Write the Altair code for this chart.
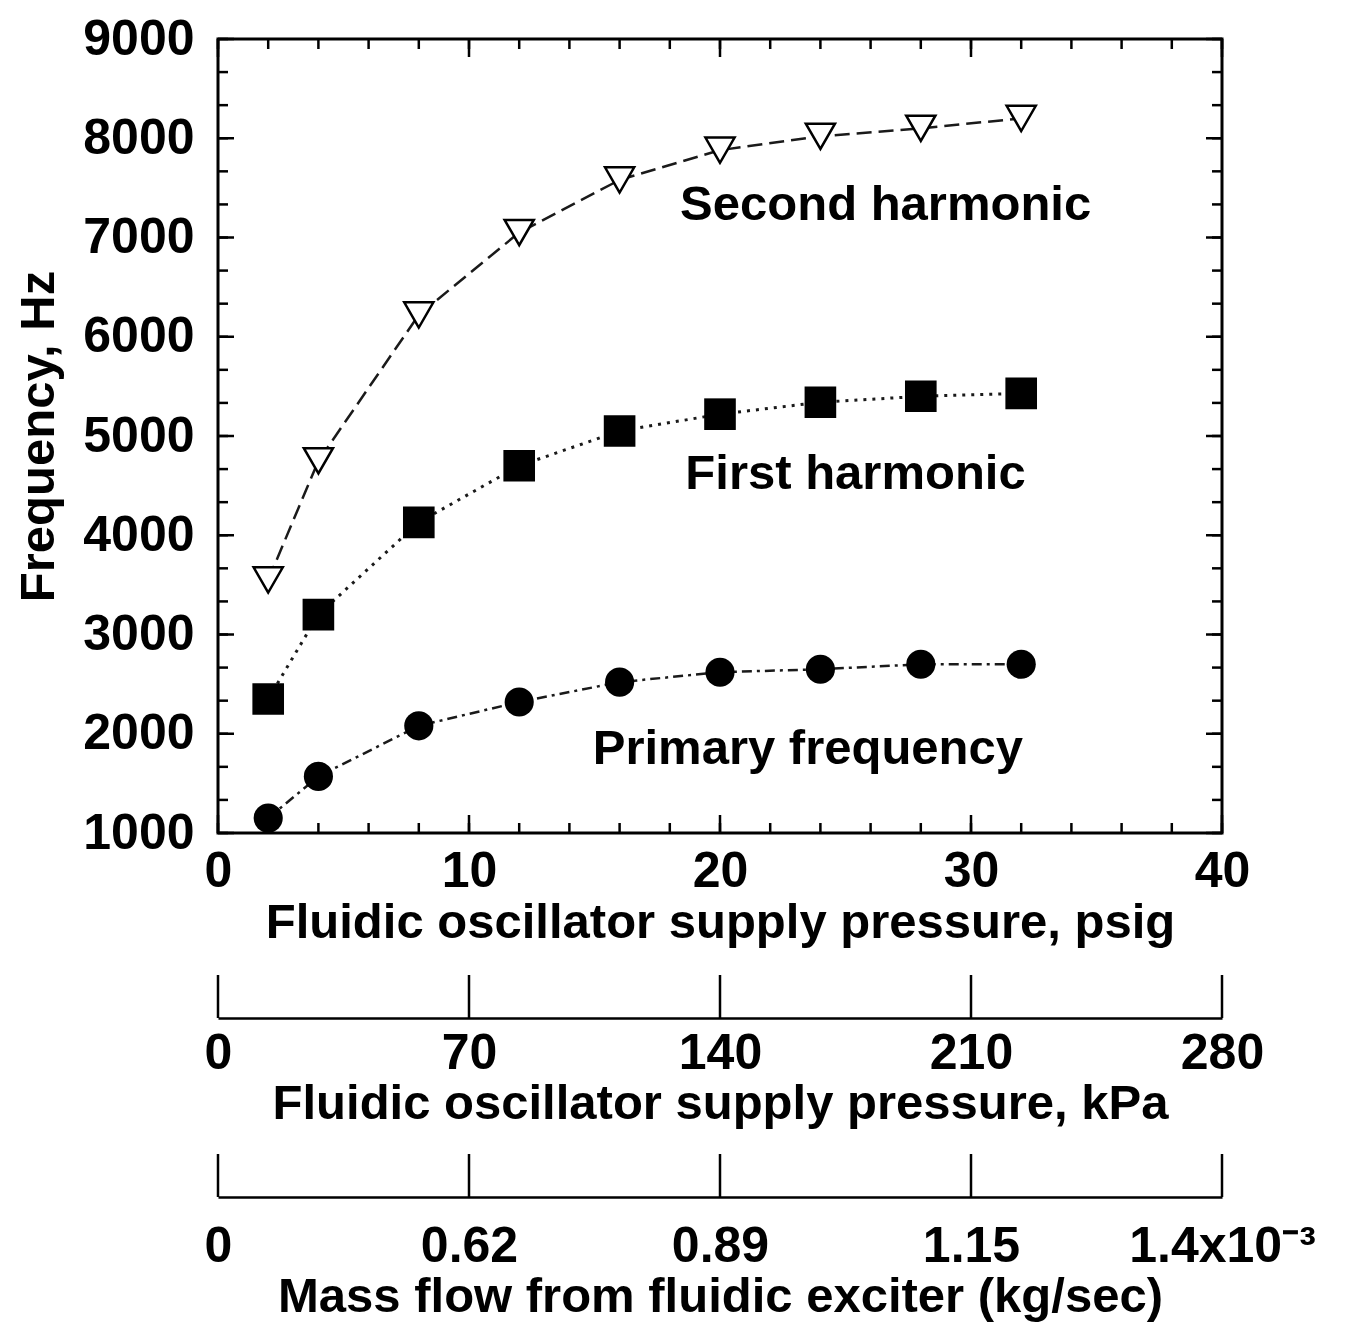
import altair as alt
import pandas as pd

# ---- data ----
psig = [2, 4, 8, 12, 16, 20, 24, 28, 32]
second_harmonic = [3550, 4750, 6220, 7050, 7580, 7880, 8020, 8100, 8200]
first_harmonic = [2350, 3200, 4130, 4700, 5050, 5220, 5340, 5400, 5430]
primary_freq = [1150, 1570, 2080, 2320, 2520, 2620, 2650, 2700, 2700]

annot_text = ["Second harmonic", "First harmonic", "Primary frequency"]
annot_x = [26.6, 25.4, 23.5]
annot_y = [7330, 4620, 1850]

x_major = [0, 10, 20, 30, 40]
y_major = [1000, 2000, 3000, 4000, 5000, 6000, 7000, 8000, 9000]
x_minor = list(range(0, 41, 2))
y_minor = [1000 + i * 1000 / 3 for i in range(25)]

kpa_ticks = [0, 70, 140, 210, 280]
mass_labels = ["0", "0.62", "0.89", "1.15", "1.4x10\u207b\u00b3"]

FONT = "Liberation Sans"
W, H = 1004, 794
SUBH = 43

xs = alt.Scale(domain=[0, 40], nice=False)
ys = alt.Scale(domain=[1000, 9000], nice=False)

common = dict(ticks=False, domain=False, grid=False, labelFont=FONT, labelFontWeight="bold",
              labelColor="black", labelFlush=False, labelOverlap=False, labelLimit=0,
              titleFont=FONT, titleFontWeight="bold", titleColor="black", titleFontSize=49)

xaxis = alt.Axis(values=x_major, labelFontSize=50, labelPadding=13, format="d",
                 title="Fluidic oscillator supply pressure, psig", titlePadding=2, **common)
yaxis = alt.Axis(values=y_major, labelFontSize=50, labelPadding=24, format="d",
                 title="Frequency, Hz", titlePadding=19, **common)

X = alt.X("x:Q", scale=xs, axis=xaxis)
Y = alt.Y("y:Q", scale=ys, axis=yaxis)

def frame(xv, yv):
    return pd.DataFrame({"x": xv, "y": yv})

sec_df = frame(psig, second_harmonic)
fst_df = frame(psig, first_harmonic)
pri_df = frame(psig, primary_freq)

line_col = "#1a1a1a"
sec_line = alt.Chart(sec_df).mark_line(color=line_col, strokeWidth=2.5, strokeDash=[15, 7]).encode(x=X, y=Y)
fst_line = alt.Chart(fst_df).mark_line(color=line_col, strokeWidth=3, strokeDash=[3, 6]).encode(x=X, y=Y)
pri_line = alt.Chart(pri_df).mark_line(color=line_col, strokeWidth=2.5, strokeDash=[10, 5, 3, 5]).encode(x=X, y=Y)

sec_pts = alt.Chart(sec_df).mark_point(shape="triangle-down", fill="white", fillOpacity=1,
                                       stroke="black", strokeWidth=2.5, size=850, opacity=1).encode(x=X, y=Y)
fst_pts = alt.Chart(fst_df).mark_point(shape="square", filled=True, color="black",
                                       size=1000, opacity=1).encode(x=X, y=Y)
pri_pts = alt.Chart(pri_df).mark_circle(color="black", size=850, opacity=1).encode(x=X, y=Y)

ann_df = pd.DataFrame({"x": annot_x, "y": annot_y, "t": annot_text})
ann = alt.Chart(ann_df).mark_text(font=FONT, fontWeight="bold", fontSize=49, color="black",
                                  align="center", baseline="middle").encode(x=X, y=Y, text="t:N")

xminor_df = pd.DataFrame({"x": x_minor})
xmajor_df = pd.DataFrame({"x": x_major})
yminor_df = pd.DataFrame({"y": y_minor})
ymajor_df = pd.DataFrame({"y": y_major})

tick_kw = dict(color="black", strokeWidth=2.5)
tb_min = alt.Chart(xminor_df).mark_rule(**tick_kw).encode(x=X, y=alt.value(H), y2=alt.value(H - 10))
tt_min = alt.Chart(xminor_df).mark_rule(**tick_kw).encode(x=X, y=alt.value(0), y2=alt.value(10))
tb_maj = alt.Chart(xmajor_df).mark_rule(**tick_kw).encode(x=X, y=alt.value(H), y2=alt.value(H - 18))
tt_maj = alt.Chart(xmajor_df).mark_rule(**tick_kw).encode(x=X, y=alt.value(0), y2=alt.value(18))
tl_min = alt.Chart(yminor_df).mark_rule(**tick_kw).encode(y=Y, x=alt.value(0), x2=alt.value(10))
tr_min = alt.Chart(yminor_df).mark_rule(**tick_kw).encode(y=Y, x=alt.value(W), x2=alt.value(W - 10))
tl_maj = alt.Chart(ymajor_df).mark_rule(**tick_kw).encode(y=Y, x=alt.value(0), x2=alt.value(16))
tr_maj = alt.Chart(ymajor_df).mark_rule(**tick_kw).encode(y=Y, x=alt.value(W), x2=alt.value(W - 16))

main = alt.layer(
    tb_min, tt_min, tb_maj, tt_maj, tl_min, tr_min, tl_maj, tr_maj,
    sec_line, fst_line, pri_line, sec_pts, fst_pts, pri_pts, ann
).properties(width=W, height=H)

# ---- secondary axes ----
def sub_axis(title, pad, label_expr=None):
    kw = dict(common)
    kw.update(domain=True, domainColor="black", domainWidth=2.5, labelFontSize=50,
              labelPadding=pad, titlePadding=1)
    if label_expr:
        kw["labelExpr"] = label_expr
    return alt.Axis(values=kpa_ticks, title=title, **kw)

mass_expr = " : ".join(f"datum.value == {v} ? '{t}'" for v, t in zip(kpa_ticks[:-1], mass_labels[:-1]))
mass_expr += f" : '{mass_labels[-1]}'"

ks = alt.Scale(domain=[0, 280], nice=False)
kdf = pd.DataFrame({"v": kpa_ticks})

kpa = alt.Chart(kdf).mark_rule(color="black", strokeWidth=2.5).encode(
    x=alt.X("v:Q", scale=ks, axis=sub_axis("Fluidic oscillator supply pressure, kPa", 10)),
    y=alt.value(0), y2=alt.value(SUBH)
).properties(width=W, height=SUBH, view=alt.ViewBackground(strokeOpacity=0))

mass = alt.Chart(kdf).mark_rule(color="black", strokeWidth=2.5).encode(
    x=alt.X("v:Q", scale=ks, axis=sub_axis("Mass flow from fluidic exciter (kg/sec)", 24, mass_expr)),
    y=alt.value(0), y2=alt.value(SUBH)
).properties(width=W, height=SUBH, view=alt.ViewBackground(strokeOpacity=0))

chart = alt.vconcat(main, kpa, mass, spacing=24).properties(
    padding={"left": 5, "top": 4, "right": 5, "bottom": 5},
    background="white"
).configure_view(stroke="black", strokeWidth=3)

chart.save("out.html", embed_options={"renderer": "svg", "actions": False})
